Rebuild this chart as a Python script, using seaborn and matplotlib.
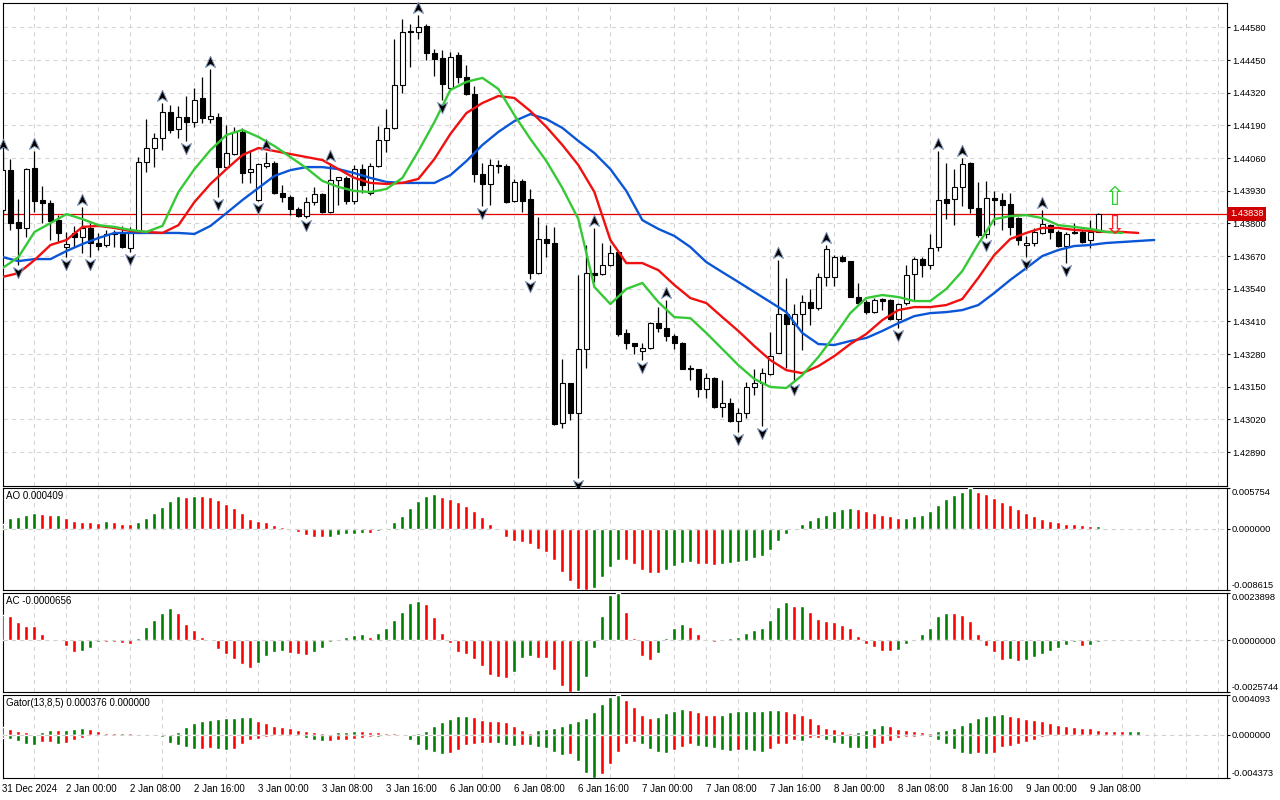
import numpy as np
import matplotlib
matplotlib.use("Agg")
import matplotlib.pyplot as plt
import matplotlib.transforms as mtransforms
from matplotlib.path import Path
from matplotlib.ticker import MultipleLocator
import seaborn as sns

# ---------------- data (USDCAD H1) ----------------
time_labels = ["31 Dec 2024", "2 Jan 00:00", "2 Jan 08:00", "2 Jan 16:00", "3 Jan 00:00",
               "3 Jan 08:00", "3 Jan 16:00", "6 Jan 00:00", "6 Jan 08:00", "6 Jan 16:00",
               "7 Jan 00:00", "7 Jan 08:00", "7 Jan 16:00", "8 Jan 00:00", "8 Jan 08:00",
               "8 Jan 16:00", "9 Jan 00:00", "9 Jan 08:00"]

opens = [1.43853, 1.44012, 1.43805, 1.43782, 1.44020, 1.43893, 1.43881, 1.43813, 1.43706, 1.43762,
         1.43746, 1.43782, 1.43722, 1.43714, 1.43762, 1.43758, 1.43702, 1.43762, 1.44044, 1.44100,
         1.44140, 1.44243, 1.44176, 1.44223, 1.44203, 1.44299, 1.44215, 1.44223, 1.44024, 1.44076,
         1.44164, 1.44004, 1.43893, 1.44028, 1.44040, 1.43921, 1.43905, 1.43857, 1.43829, 1.43885,
         1.43917, 1.43845, 1.43973, 1.43981, 1.43889, 1.44016, 1.43921, 1.44028, 1.44132, 1.44180,
         1.44351, 1.44566, 1.44562, 1.44586, 1.44478, 1.44458, 1.44339, 1.44470, 1.44383, 1.44315,
         1.43996, 1.43957, 1.44032, 1.44028, 1.43889, 1.43969, 1.43897, 1.43602, 1.43738, 1.43722,
         1.43005, 1.43165, 1.43045, 1.43300, 1.43602, 1.43598, 1.43634, 1.43686, 1.43364, 1.43324,
         1.43292, 1.43304, 1.43403, 1.43384, 1.43352, 1.43324, 1.43224, 1.43220, 1.43141, 1.43185,
         1.43069, 1.43085, 1.43013, 1.43045, 1.43149, 1.43165, 1.43200, 1.43284, 1.43439, 1.43399,
         1.43439, 1.43487, 1.43463, 1.43587, 1.43587, 1.43666, 1.43650, 1.43507, 1.43487, 1.43447,
         1.43499, 1.43495, 1.43419, 1.43483, 1.43598, 1.43658, 1.43634, 1.43706, 1.43897, 1.43897,
         1.43945, 1.44040, 1.43861, 1.43758, 1.43901, 1.43893, 1.43877, 1.43821, 1.43714, 1.43722,
         1.43762, 1.43793, 1.43766, 1.43710, 1.43766, 1.43766, 1.43734, 1.43766]
highs = [1.44084, 1.44056, 1.43897, 1.44020, 1.44088, 1.43949, 1.43893, 1.43833, 1.43766, 1.43790,
         1.43865, 1.43801, 1.43762, 1.43774, 1.43774, 1.43790, 1.43786, 1.44064, 1.44215, 1.44160,
         1.44279, 1.44271, 1.44267, 1.44307, 1.44339, 1.44383, 1.44414, 1.44239, 1.44191, 1.44184,
         1.44180, 1.44092, 1.44040, 1.44084, 1.44048, 1.43953, 1.43913, 1.43865, 1.43905, 1.43945,
         1.43921, 1.44040, 1.43985, 1.43989, 1.44032, 1.44036, 1.44040, 1.44188, 1.44255, 1.44534,
         1.44613, 1.44593, 1.44629, 1.44593, 1.44494, 1.44490, 1.44482, 1.44482, 1.44430, 1.44347,
         1.44040, 1.44056, 1.44052, 1.44036, 1.43977, 1.43977, 1.43937, 1.43825, 1.43793, 1.43786,
         1.43260, 1.43165, 1.43594, 1.43714, 1.43782, 1.43722, 1.43714, 1.43686, 1.43380, 1.43324,
         1.43324, 1.43407, 1.43467, 1.43495, 1.43360, 1.43328, 1.43236, 1.43220, 1.43204, 1.43189,
         1.43177, 1.43105, 1.43065, 1.43169, 1.43220, 1.43224, 1.43368, 1.43654, 1.43583, 1.43479,
         1.43515, 1.43539, 1.43602, 1.43714, 1.43674, 1.43674, 1.43650, 1.43563, 1.43495, 1.43503,
         1.43503, 1.43499, 1.43483, 1.43634, 1.43666, 1.43666, 1.43758, 1.44088, 1.44040, 1.44016,
         1.44060, 1.44044, 1.43965, 1.43969, 1.43929, 1.43921, 1.43921, 1.43825, 1.43750, 1.43782,
         1.43853, 1.43797, 1.43774, 1.43766, 1.43801, 1.43774, 1.43813, 1.43841]
lows = [1.43833, 1.43774, 1.43634, 1.43746, 1.43845, 1.43801, 1.43734, 1.43726, 1.43666, 1.43706,
        1.43682, 1.43666, 1.43694, 1.43706, 1.43706, 1.43702, 1.43686, 1.43762, 1.44004, 1.44024,
        1.44092, 1.44160, 1.44140, 1.44128, 1.44184, 1.44199, 1.44199, 1.43905, 1.44020, 1.44072,
        1.43961, 1.43961, 1.43889, 1.44020, 1.43917, 1.43885, 1.43833, 1.43825, 1.43821, 1.43873,
        1.43841, 1.43841, 1.43873, 1.43877, 1.43877, 1.43921, 1.43913, 1.44024, 1.44084, 1.44176,
        1.44319, 1.44422, 1.44534, 1.44450, 1.44387, 1.44291, 1.44331, 1.44359, 1.44311, 1.43965,
        1.43869, 1.43873, 1.44000, 1.43881, 1.43885, 1.43845, 1.43579, 1.43598, 1.43666, 1.42997,
        1.42986, 1.43017, 1.42787, 1.43224, 1.43567, 1.43594, 1.43630, 1.43352, 1.43300, 1.43280,
        1.43256, 1.43300, 1.43368, 1.43332, 1.43300, 1.43220, 1.43177, 1.43109, 1.43105, 1.43065,
        1.43029, 1.43009, 1.42970, 1.43025, 1.43117, 1.42994, 1.43196, 1.43284, 1.43224, 1.43169,
        1.43296, 1.43395, 1.43455, 1.43551, 1.43551, 1.43646, 1.43507, 1.43475, 1.43439, 1.43443,
        1.43455, 1.43415, 1.43384, 1.43475, 1.43495, 1.43587, 1.43618, 1.43690, 1.43817, 1.43793,
        1.43869, 1.43841, 1.43746, 1.43742, 1.43793, 1.43774, 1.43754, 1.43714, 1.43666, 1.43710,
        1.43758, 1.43738, 1.43706, 1.43642, 1.43758, 1.43722, 1.43702, 1.43766]
closes = [1.44012, 1.43801, 1.43782, 1.44016, 1.43889, 1.43881, 1.43809, 1.43762, 1.43718, 1.43746,
          1.43782, 1.43722, 1.43710, 1.43758, 1.43758, 1.43706, 1.43762, 1.44044, 1.44100, 1.44140,
          1.44243, 1.44172, 1.44223, 1.44203, 1.44291, 1.44219, 1.44227, 1.44024, 1.44080, 1.44164,
          1.44000, 1.44016, 1.44036, 1.44040, 1.43921, 1.43905, 1.43857, 1.43829, 1.43885, 1.43917,
          1.43845, 1.43973, 1.43985, 1.43889, 1.44016, 1.43953, 1.44028, 1.44132, 1.44180, 1.44351,
          1.44562, 1.44562, 1.44582, 1.44478, 1.44454, 1.44355, 1.44462, 1.44383, 1.44315, 1.43996,
          1.43957, 1.44032, 1.44028, 1.43885, 1.43965, 1.43889, 1.43602, 1.43738, 1.43722, 1.43001,
          1.43165, 1.43045, 1.43300, 1.43602, 1.43594, 1.43634, 1.43682, 1.43360, 1.43324, 1.43312,
          1.43304, 1.43403, 1.43384, 1.43352, 1.43324, 1.43220, 1.43220, 1.43141, 1.43185, 1.43069,
          1.43085, 1.43013, 1.43045, 1.43149, 1.43165, 1.43204, 1.43272, 1.43439, 1.43399, 1.43439,
          1.43487, 1.43463, 1.43587, 1.43698, 1.43666, 1.43650, 1.43507, 1.43483, 1.43447, 1.43495,
          1.43491, 1.43419, 1.43479, 1.43594, 1.43658, 1.43634, 1.43702, 1.43893, 1.43881, 1.43945,
          1.44036, 1.43861, 1.43754, 1.43901, 1.43893, 1.43873, 1.43786, 1.43734, 1.43722, 1.43766,
          1.43797, 1.43766, 1.43710, 1.43758, 1.43762, 1.43726, 1.43766, 1.43838]

# bar indices carrying Bill Williams fractals
fractal_up = [0, 4, 10, 20, 26, 33, 41, 52, 74, 83, 97, 103, 117, 120, 130]
fractal_down = [2, 8, 11, 16, 23, 27, 32, 38, 55, 60, 66, 72, 80, 92, 95, 99, 112, 123, 128, 133]

# alligator lines, one value every 2 bars (they run past the last candle)
lips = [1.43622, 1.43666, 1.43766, 1.43801, 1.43837, 1.43817, 1.43793, 1.43786, 1.43774, 1.43766,
        1.43790, 1.43925, 1.44016, 1.44092, 1.44152, 1.44172, 1.44144, 1.44108, 1.44064, 1.44020,
        1.43969, 1.43945, 1.43929, 1.43925, 1.43937, 1.43981, 1.44088, 1.44203, 1.44331, 1.44363,
        1.44379, 1.44335, 1.44231, 1.44136, 1.44048, 1.43941, 1.43817, 1.43547, 1.43479, 1.43539,
        1.43563, 1.43487, 1.43427, 1.43423, 1.43364, 1.43300, 1.43236, 1.43181, 1.43149, 1.43145,
        1.43196, 1.43268, 1.43352, 1.43443, 1.43503, 1.43515, 1.43507, 1.43491, 1.43491, 1.43539,
        1.43610, 1.43718, 1.43817, 1.43829, 1.43833, 1.43821, 1.43793, 1.43786, 1.43778, 1.43766,
        1.43762]
teeth = [1.43587, 1.43602, 1.43654, 1.43714, 1.43734, 1.43786, 1.43790, 1.43782, 1.43770, 1.43766,
         1.43762, 1.43793, 1.43885, 1.43957, 1.44016, 1.44072, 1.44100, 1.44088, 1.44076, 1.44064,
         1.44052, 1.44016, 1.43981, 1.43961, 1.43957, 1.43961, 1.43977, 1.44056, 1.44156, 1.44239,
         1.44279, 1.44307, 1.44299, 1.44247, 1.44184, 1.44112, 1.44032, 1.43925, 1.43734, 1.43642,
         1.43642, 1.43614, 1.43555, 1.43503, 1.43483, 1.43427, 1.43372, 1.43312, 1.43256, 1.43216,
         1.43204, 1.43232, 1.43272, 1.43320, 1.43360, 1.43415, 1.43455, 1.43467, 1.43467, 1.43475,
         1.43499, 1.43583, 1.43674, 1.43738, 1.43762, 1.43782, 1.43782, 1.43774, 1.43770, 1.43766,
         1.43766, 1.43762]
jaw = [1.43666, 1.43650, 1.43658, 1.43658, 1.43690, 1.43718, 1.43742, 1.43762, 1.43762, 1.43762,
       1.43762, 1.43762, 1.43758, 1.43790, 1.43841, 1.43893, 1.43941, 1.43989, 1.44012, 1.44024,
       1.44024, 1.44016, 1.44000, 1.43981, 1.43965, 1.43961, 1.43961, 1.43961, 1.43992, 1.44048,
       1.44112, 1.44164, 1.44207, 1.44235, 1.44215, 1.44180, 1.44128, 1.44080, 1.44016, 1.43929,
       1.43813, 1.43778, 1.43750, 1.43706, 1.43646, 1.43606, 1.43567, 1.43527, 1.43487, 1.43447,
       1.43364, 1.43320, 1.43316, 1.43332, 1.43344, 1.43372, 1.43403, 1.43431, 1.43443, 1.43447,
       1.43455, 1.43475, 1.43523, 1.43575, 1.43622, 1.43670, 1.43694, 1.43710, 1.43714, 1.43722,
       1.43726, 1.43730, 1.43734]

ao = [0.000684, 0.001482, 0.001653, 0.001938, 0.00228, 0.002109, 0.00191, 0.001938, 0.001596, 0.001083,
      0.000969, 0.000912, 0.000884, 0.001083, 0.000912, 0.000741, 0.000713, 0.000912, 0.001596, 0.00228,
      0.003135, 0.00399, 0.00456, 0.004532, 0.004674, 0.00456, 0.004503, 0.004104, 0.003477, 0.002964,
      0.00228, 0.001368, 0.001083, 0.000912, 0.00057, 0.000228, 0.000057, -0.000456, -0.000798, -0.00114,
      -0.001169, -0.001083, -0.000798, -0.000741, -0.000684, -0.00057, -0.000627, -0.000342, -0.000114, 0.000912,
      0.001767, 0.002964, 0.00399, 0.004674, 0.004845, 0.004503, 0.004161, 0.003762, 0.003249, 0.002508,
      0.00171, 0.000741, -0.000171, -0.001083, -0.00171, -0.001881, -0.002166, -0.00285, -0.003306, -0.004332,
      -0.006042, -0.00741, -0.008436, -0.008615, -0.008265, -0.006726, -0.005358, -0.004332, -0.004361, -0.005016,
      -0.005757, -0.006213, -0.00627, -0.005757, -0.005187, -0.004845, -0.004731, -0.004902, -0.005016, -0.005045,
      -0.004902, -0.004845, -0.004731, -0.004503, -0.004161, -0.003819, -0.003021, -0.001767, -0.000741, -0.000228,
      0.000684, 0.001311, 0.001653, 0.001938, 0.002451, 0.00285, 0.002964, 0.00285, 0.002451, 0.00228,
      0.001938, 0.001824, 0.001482, 0.001596, 0.001767, 0.001938, 0.002508, 0.003363, 0.004218, 0.004731,
      0.005187, 0.005754, 0.005187, 0.004845, 0.004389, 0.003819, 0.003363, 0.00285, 0.00228, 0.001767,
      0.001425, 0.001083, 0.000912, 0.000741, 0.000684, 0.000513, 0.00036, 0.000409]

ac = [0.00126, 0.00124, 0.0009, 0.00072, 0.00071, 0.0003, 0.00004, -0.00002, -0.0003, -0.00058,
      -0.00052, -0.00036, -0.00006, -0.00007, -0.00008, -0.00014, -0.00016, 0.00012, 0.00066, 0.00104,
      0.00138, 0.00162, 0.00138, 0.00084, 0.0005, 0.00018, -0.00002, -0.00042, -0.0007, -0.00094,
      -0.0012, -0.00136, -0.00112, -0.00076, -0.00058, -0.00052, -0.00064, -0.0007, -0.00071, -0.00058,
      -0.0004, -0.0001, 0.00004, 0.00018, 0.00026, 0.00032, 0.00018, 0.00036, 0.00062, 0.00104,
      0.00144, 0.00188, 0.00198, 0.0018, 0.00116, 0.00038, -0.00014, -0.00058, -0.0007, -0.00094,
      -0.0013, -0.00174, -0.00184, -0.0019, -0.00156, -0.0009, -0.00076, -0.00086, -0.0009, -0.0015,
      -0.00226, -0.0025744, -0.0025, -0.00184, -0.00036, 0.0012, 0.00228, 0.0023898, 0.00144, 0.00012,
      -0.00076, -0.001, -0.00064, 0.00012, 0.0006, 0.00084, 0.00066, 0.0003, -0.00004, -0.0001,
      0.00002, 0.00012, 0.00018, 0.00036, 0.00054, 0.0006, 0.00104, 0.00168, 0.00192, 0.00172,
      0.00174, 0.00144, 0.00108, 0.00096, 0.00094, 0.00078, 0.0006, 0.00024, -0.00016, -0.00034,
      -0.00052, -0.00053, -0.00046, -0.00016, 0.00006, 0.0003, 0.0006, 0.0012, 0.00138, 0.00137,
      0.00126, 0.00096, 0.0003, -0.00028, -0.00058, -0.001, -0.00094, -0.00102, -0.001, -0.00082,
      -0.0007, -0.00052, -0.00036, -0.00022, -0.0001, -0.00028, -0.00022, -0.0000656]

gator_up = [0.00077, 0.0006, 0.00037, 0.00027, 0.00013, 0.0003, 0.0005, 0.00048, 0.00053, 0.00063,
            0.0007, 0.0006, 0.0004, 0.00023, 0.0002, 0.00023, 0.0002, 0.00007, 0.00003, 0.00006,
            0.00001, 0.00002, 0.0003, 0.0008, 0.0012, 0.0014, 0.0015, 0.0016, 0.00168, 0.0017,
            0.00178, 0.0018, 0.0014, 0.0012, 0.0009, 0.0008, 0.00067, 0.0005, 0.0004, 0.0003,
            0.0002, 0.00013, 0.0003, 0.00032, 0.0004, 0.00039, 0.0003, 0.00028, 0.0002, 0.00018,
            0.00013, 0.0001, 0.00017, 0.0004, 0.00093, 0.0013, 0.0016, 0.0019, 0.00192, 0.0018,
            0.0015, 0.0014, 0.00138, 0.0013, 0.00093, 0.00048, 0.00024, 0.00048, 0.00061, 0.00073,
            0.00085, 0.00121, 0.00145, 0.0017, 0.0023, 0.00315, 0.00388, 0.004093, 0.00351, 0.00279,
            0.00206, 0.0017, 0.00182, 0.00218, 0.00242, 0.00267, 0.00254, 0.0023, 0.00206, 0.00204,
            0.00206, 0.0023, 0.00242, 0.00243, 0.00244, 0.00245, 0.00254, 0.00255, 0.00242, 0.00218,
            0.00206, 0.0017, 0.00109, 0.00073, 0.00061, 0.00036, 0.00024, 0.00026, 0.00048, 0.00073,
            0.00097, 0.00085, 0.00061, 0.00048, 0.00036, 0.00034, 0.00024, 0.00036, 0.00048, 0.00073,
            0.00097, 0.00133, 0.0017, 0.00194, 0.00206, 0.00208, 0.00194, 0.00182, 0.00158, 0.00155,
            0.00145, 0.00121, 0.00097, 0.00085, 0.00083, 0.00073, 0.00071, 0.00046, 0.00043, 0.0004,
            0.00035, 0.00036, 0.000376]
gator_down = [0.00033, 0.0004, 0.0006, 0.00097, 0.00107, 0.0007, 0.00069, 0.00097, 0.00087, 0.00047,
              0.00027, 0.00007, 0.00003, 0.00002, 0.00003, 0.00002, 0.00001, 0.00003, 0.00002, 0.00005,
              0.00017, 0.00083, 0.00107, 0.00123, 0.00147, 0.00145, 0.00137, 0.0014, 0.0015, 0.0014,
              0.00093, 0.00047, 0.0004, 0.00017, 0.00003, 0.00007, 0.00005, 0.00007, 0.00027, 0.00047,
              0.00067, 0.00065, 0.00057, 0.00047, 0.0004, 0.00027, 0.00017, 0.00018, 0.0001, 0.00007,
              0.00013, 0.00057, 0.00107, 0.00157, 0.00173, 0.00193, 0.00183, 0.00157, 0.00107, 0.00093,
              0.00087, 0.0008, 0.00085, 0.001, 0.0011, 0.00105, 0.00106, 0.00121, 0.00133, 0.0017,
              0.00202, 0.0019, 0.00263, 0.00384, 0.004373, 0.004, 0.00291, 0.0017, 0.00093, 0.00073,
              0.00097, 0.00145, 0.00178, 0.00182, 0.00153, 0.00121, 0.00097, 0.00109, 0.00121, 0.00133,
              0.00158, 0.00159, 0.00157, 0.00158, 0.00159, 0.0017, 0.00145, 0.00097, 0.00096, 0.00048,
              0.00061, 0.00036, 0.00035, 0.00048, 0.00085, 0.00097, 0.00133, 0.00134, 0.00145, 0.00133,
              0.00097, 0.00061, 0.00036, 0.0002, 0.00019, 0.00012, 0.00024, 0.00048, 0.00097, 0.00145,
              0.00182, 0.00194, 0.00182, 0.00195, 0.00181, 0.00121, 0.00109, 0.00097, 0.00073, 0.00048,
              0.00024, 0.00008, 0.00009, 0.00005, 0.00006, 0.00004, 0.00005, 0.00003, 0.00004, 0.00006,
              0.00002]

price_ticks = [1.44580, 1.44450, 1.44320, 1.44190, 1.44060, 1.43930, 1.43800,
               1.43670, 1.43540, 1.43410, 1.43280, 1.43150, 1.43020, 1.42890]

# ---------------- style ----------------
sns.set_style("white")
plt.rcParams['font.family'] = ['Liberation Sans', 'DejaVu Sans']
plt.rcParams['lines.scale_dashes'] = False

GREEN = '#008000'
RED = '#ff0000'
GRID = '#d6d6d6'
DASH = (0, (3, 3))
FS = 7
SCALE_FS = 6.7

W, H = 1280, 800
fig = plt.figure(figsize=(W / 100, H / 100), dpi=100)


def px_axes(x0, y0, x1, y1):
    return fig.add_axes([x0 / W, 1 - y1 / H, (x1 - x0) / W, (y1 - y0) / H])


ax_main = px_axes(2.5, 2.5, 1227, 485.5)
ax_ao = px_axes(2.5, 488, 1227, 590)
ax_ac = px_axes(2.5, 592.5, 1227, 692)
ax_gt = px_axes(2.5, 694.5, 1227, 778)
axes = [ax_main, ax_ao, ax_ac, ax_gt]

for ax in axes:
    ax.set_facecolor('white')
    ax.set_xlim(0.0, 153.1)
    for sp in ax.spines.values():
        sp.set_visible(True)
        sp.set_color('black')
        sp.set_linewidth(0.8)
    ax.xaxis.set_minor_locator(MultipleLocator(4))
    ax.grid(True, which='minor', axis='x', color=GRID, ls=DASH, lw=0.8, zorder=0)
    ax.yaxis.tick_right()
    ax.tick_params(axis='y', direction='out', length=2.5, width=0.8, labelsize=SCALE_FS,
                   pad=1, colors='black', left=False, right=True)
    ax.tick_params(axis='x', which='both', length=0, labelbottom=False)
    ax.set_axisbelow(True)

# ---------------- main chart ----------------
o, h, l, c = map(np.asarray, (opens, highs, lows, closes))
bars = np.arange(len(c))
bull = c >= o

ax_main.set_ylim(1.42757, 1.44679)
ax_main.set_yticks(price_ticks)
ax_main.set_yticklabels([f"{t:.5f}" for t in price_ticks])
ax_main.grid(True, which='major', axis='y', color=GRID, ls=DASH, lw=0.8, zorder=0)

ax_main.axhline(c[-1], color='#e00000', lw=0.9, zorder=2)

ax_main.vlines(bars, l, h, color='black', lw=0.9, zorder=3)
ax_main.bar(bars, np.maximum(np.abs(c - o), 0.00002), bottom=np.minimum(o, c), width=0.62,
            color=np.where(bull, 'white', 'black'), edgecolor='black', linewidth=0.8, zorder=4)

for vals, col in [(jaw, '#0b56d6'), (teeth, '#f01010'), (lips, '#36c936')]:
    sns.lineplot(x=np.arange(0, 2 * len(vals), 2), y=vals, ax=ax_main, color=col, lw=1.7,
                 estimator=None, sort=False, legend=False, zorder=5)

up_dart = Path([(0, 1), (0.8, -0.8), (0, -0.3), (-0.8, -0.8), (0, 1)],
               [Path.MOVETO, Path.LINETO, Path.LINETO, Path.LINETO, Path.CLOSEPOLY])
down_dart = Path([(0, -1), (0.8, 0.8), (0, 0.3), (-0.8, 0.8), (0, -1)],
                 [Path.MOVETO, Path.LINETO, Path.LINETO, Path.LINETO, Path.CLOSEPOLY])
tr_up = mtransforms.offset_copy(ax_main.transData, fig=fig, x=0, y=7, units='dots')
tr_dn = mtransforms.offset_copy(ax_main.transData, fig=fig, x=0, y=-7, units='dots')
ax_main.plot(fractal_up, h[fractal_up], ls='none', marker=up_dart, ms=9, mfc='black',
             mec='#7f93b5', mew=0.7, transform=tr_up, zorder=6, clip_on=False)
ax_main.plot(fractal_down, l[fractal_down], ls='none', marker=down_dart, ms=9, mfc='black',
             mec='#7f93b5', mew=0.7, transform=tr_dn, zorder=6, clip_on=False)

# signal arrows next to the last bar
ax_main.annotate('\u21e7', xy=(bars[-1] + 2, c[-1]), xytext=(0, 16), textcoords='offset pixels',
                 ha='center', va='center', fontsize=19, color='#2ccf2c', family=['DejaVu Sans'], zorder=7)
ax_main.annotate('\u21e9', xy=(bars[-1] + 2, c[-1]), xytext=(0, -13), textcoords='offset pixels',
                 ha='center', va='center', fontsize=19, color='#ff2020', family=['DejaVu Sans'], zorder=7)

# current price box on the scale
ax_main.annotate(f"{c[-1]:.5f}", xy=(1, c[-1]), xycoords=('axes fraction', 'data'),
                 xytext=(3, 0), textcoords='offset pixels', ha='left', va='center', fontsize=SCALE_FS,
                 color='white', bbox=dict(boxstyle='square,pad=0.3', fc='#d00000', ec='none'),
                 annotation_clip=False, zorder=10)


# ---------------- oscillators ----------------
def trend_colors(v):
    v = np.asarray(v)
    rising = np.r_[v[1] > v[0], v[1:] > v[:-1]]
    return np.where(rising, GREEN, RED)


def scale_labels(ax, lo, hi, fmt):
    ax.set_ylim(lo, hi)
    ax.set_yticks([lo, 0.0, hi])
    ax.set_yticklabels([fmt.format(lo), fmt.format(0.0), fmt.format(hi)])
    labels = ax.get_yticklabels()
    labels[0].set_va('bottom')
    labels[-1].set_va('top')
    ax.axhline(0, color='#d0d0d0', ls=DASH, lw=0.8, zorder=4)


def panel_title(ax, text):
    ax.annotate(text, xy=(0, 1), xycoords='axes fraction', xytext=(4, -3),
                textcoords='offset pixels', ha='left', va='top', fontsize=FS, color='black')


ao_v = np.asarray(ao)
ax_ao.bar(np.arange(len(ao_v)), ao_v, width=0.5, color=trend_colors(ao_v), zorder=3)
scale_labels(ax_ao, ao_v.min(), ao_v.max(), "{:.6f}")
panel_title(ax_ao, f"AO {ao_v[-1]:.6f}")

ac_v = np.asarray(ac)
ax_ac.bar(np.arange(len(ac_v)), ac_v, width=0.5, color=trend_colors(ac_v), zorder=3)
scale_labels(ax_ac, ac_v.min(), ac_v.max(), "{:.7f}")
panel_title(ax_ac, f"AC {ac_v[-1]:.7f}")

gu = np.asarray(gator_up)
gd = np.asarray(gator_down)
ax_gt.bar(np.arange(len(gu)), gu, width=0.5, color=trend_colors(gu), zorder=3)
ax_gt.bar(np.arange(len(gd)), -gd, width=0.5, color=trend_colors(gd), zorder=3)
scale_labels(ax_gt, -gd.max(), gu.max(), "{:.6f}")
down_last = gd[-1] if len(gd) == len(gu) else 0.0
panel_title(ax_gt, f"Gator(13,8,5) {gu[-1]:.6f} {down_last:.6f}")

# time axis under the last panel
ax_gt.set_xticks(np.arange(0, len(time_labels) * 8, 8))
ax_gt.set_xticklabels(time_labels, ha='left')
ax_gt.tick_params(axis='x', which='major', length=3, width=0.8, direction='out',
                  labelbottom=True, labelsize=FS, pad=1.5, colors='black')

fig.savefig("out.png", dpi=100, facecolor='white')
